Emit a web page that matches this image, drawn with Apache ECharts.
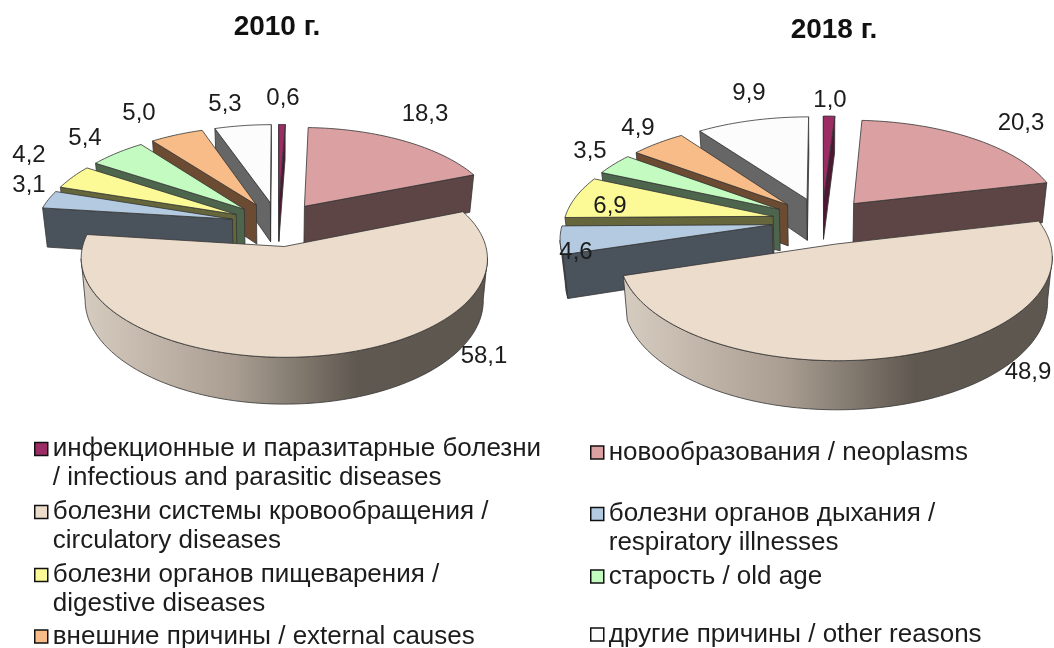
<!DOCTYPE html>
<html><head><meta charset="utf-8">
<style>html,body{margin:0;padding:0;background:#fff}#c{width:1054px;height:648px}</style>
<script src="https://cdn.jsdelivr.net/npm/echarts@6/dist/echarts.min.js"></script>
</head><body><div id="c"></div>
<script>
const categories = [
  'инфекционные и паразитарные болезни\n/ infectious and parasitic diseases',
  'новообразования / neoplasms',
  'болезни системы кровообращения /\ncirculatory diseases',
  'болезни органов дыхания /\nrespiratory illnesses',
  'болезни органов пищеварения /\ndigestive diseases',
  'старость / old age',
  'внешние причины / external causes',
  'другие причины / other reasons'
];
const values2010 = [0.6, 18.3, 58.1, 3.1, 4.2, 5.4, 5.0, 5.3];
const values2018 = [1.0, 20.3, 48.9, 4.6, 6.9, 3.5, 4.9, 9.9];
const years = ['2010 г.', '2018 г.'];

const topColors  = ['#9B2D64','#DBA1A2','#ECDCCB','#B3CAE0','#FCFA96','#C4FBC0','#F7BC88','#FCFCFC'];
const wallColors = ['#4E1733','#5E4545','#8E8579','#4A535C','#66663D','#4E654D','#6B4B32','#666666'];

const allValues = [values2010, values2018];
const geometry = [
  {cx:278, cy:224, rx:196, ry:92, k:0.1176, depth:40, explode:0.24, taper:0.98},
  {cx:822, cy:221, rx:209, ry:97, k:0.1176, depth:42, explode:0.24, taper:0.98}
];
const labelCenters = [
  [[283,98],[425,114],[484,356],[29,185],[29,155],[85,138],[139,113],[225,104]],
  [[830,100],[1021,123],[1028,372],[576,252],[610,206],[590,151],[638,128],[749,93]]
];
const legendPos = [
  [34,403.5],[590,436],[34,466.5],[590,468.5],[34,529.5],[590,560],[34,620],[590,618]
];

function sliceAngles(vals, i) {
  const sum = vals.reduce((a, b) => a + b, 0);
  let before = 0;
  for (let j = 0; j < i; j++) before += vals[j];
  return [before / sum * 2 * Math.PI, (before + vals[i]) / sum * 2 * Math.PI];
}
function frontness(vals, i) {
  const a = sliceAngles(vals, i);
  return -Math.cos((a[0] + a[1]) / 2);
}
function renderItem(params, api) {
  const chart = api.value(0), i = params.seriesIndex;
  const vals = allValues[chart], g = geometry[chart];
  const a = sliceAngles(vals, i), mid = (a[0] + a[1]) / 2;
  const ox = Math.sin(mid) * g.explode, oy = -Math.cos(mid) * g.explode;
  const proj = (X, Y, Z) => {
    const s = 1 / (1 - g.k * Y);
    const t = Z ? g.taper : 1;
    return [g.cx + g.rx * X * s * t, g.cy + g.ry * Y * s + g.depth * Z * s];
  };
  const rim = t => [ox + Math.sin(t), oy - Math.cos(t)];
  const n = Math.max(2, Math.ceil((a[1] - a[0]) / 0.025));
  const arc = [];
  for (let q = 0; q <= n; q++) arc.push(rim(a[0] + (a[1] - a[0]) * q / n));
  const order = vals.map((_, j) => j).sort((p, q) => frontness(vals, p) - frontness(vals, q));
  const base = (order.indexOf(i) + 1) * 10;
  const stroke = {stroke: '#333', lineWidth: 0.8, lineJoin: 'round'};
  const wallFill = i === 2 ? {
    type: 'linear', x: 0, y: 0, x2: 1, y2: 0,
    colorStops: [{offset:0,color:'#D6CCC0'},{offset:0.12,color:'#C8BDB0'},{offset:0.38,color:'#A89D90'},
                 {offset:0.68,color:'#5F5850'},{offset:1,color:'#5D574F'}]
  } : wallColors[i];
  const children = [];
  const apex = proj(ox, oy, 0);
  // cut faces: only the ones turned towards the viewer
  [arc[0], arc[n]].forEach((p, w) => {
    const dx = proj(p[0], p[1], 0)[0] - apex[0];
    if ((w === 0 && dx < 0) || (w === 1 && dx > 0)) {
      children.push({type:'polygon', z2: base + w, silent:true,
        shape:{points:[apex, proj(p[0],p[1],0), proj(p[0],p[1],1), proj(ox,oy,1)]},
        style:Object.assign({fill: wallColors[i]}, stroke)});
    }
  });
  // outer wall: the part of the rim where screen x falls as the angle grows
  const vis = [];
  for (let q = 0; q < n; q++) {
    if (proj(arc[q+1][0], arc[q+1][1], 0)[0] < proj(arc[q][0], arc[q][1], 0)[0]) {
      if (!vis.length || vis[vis.length-1] !== q) vis.push(q);
      vis.push(q + 1);
    }
  }
  if (vis.length) {
    const run = vis.map(q => arc[q]);
    const band = run.map(p => proj(p[0],p[1],0)).concat(run.slice().reverse().map(p => proj(p[0],p[1],1)));
    children.push({type:'polygon', z2: base + 2, silent:true, shape:{points:band},
      style:Object.assign({fill: wallFill}, stroke)});
  }
  const top = [apex].concat(arc.map(p => proj(p[0],p[1],0)));
  children.push({type:'polygon', z2: base + 3, silent:true, shape:{points:top},
    style:Object.assign({fill: topColors[i]}, stroke)});
  const lc = labelCenters[chart][i];
  children.push({type:'text', z2: 200, silent:true, x: lc[0], y: lc[1], style:{
    text: api.value(1).toFixed(1).replace('.', ','), fill:'#1c1c1c',
    font:'24px "Liberation Sans"', align:'center', verticalAlign:'middle'}});
  return {type:'group', children};
}

const series = categories.map((name, i) => ({
  type:'custom', name, coordinateSystem:'none', silent:true, animation:false,
  itemStyle:{color: topColors[i]},
  data: allValues.map((v, c) => [c, v[i]]),
  renderItem
}));
const legend = categories.map((name, i) => ({
  data:[name], left: legendPos[i][0], top: legendPos[i][1], orient:'horizontal',
  icon:'rect', itemWidth:13, itemHeight:13, itemGap:0, padding:0, selectedMode:false,
  itemStyle:{borderColor:'#111', borderWidth:1.5},
  formatter: nm => nm.indexOf('\n') >= 0 ? '\n' + nm : nm,
  textStyle:{fontFamily:'Liberation Sans', fontSize:26, lineHeight:29, color:'#1c1c1c', padding:[4,0,0,0]}
}));
const chart = echarts.init(document.getElementById('c'), null, {renderer:'canvas'});
chart.setOption({
  animation:false, backgroundColor:'#fff',
  title: [
    {text: years[0], left:272, top:8, textAlign:'center', textStyle:{fontFamily:'Liberation Sans', fontSize:28, fontWeight:'bold', color:'#111'}},
    {text: years[1], left:829, top:11, textAlign:'center', textStyle:{fontFamily:'Liberation Sans', fontSize:28, fontWeight:'bold', color:'#111'}}
  ],
  legend, series
});
</script></body></html>
